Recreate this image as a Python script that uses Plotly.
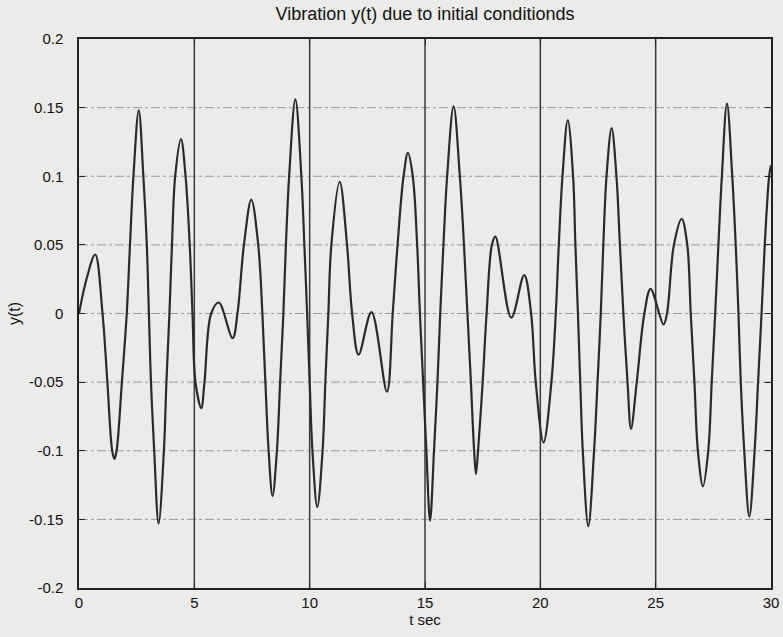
import plotly.graph_objects as go

# time samples (s) and displacement y(t)
t_sec = [0.00, 0.34, 0.70, 1.02, 1.23, 1.44, 1.54, 1.63, 1.86, 2.07, 2.21, 2.36,
         2.59, 2.79, 2.94, 3.03, 3.12, 3.26, 3.45, 3.68, 3.79, 3.92, 4.03, 4.17,
         4.42, 4.62, 4.80, 4.92, 5.05, 5.30, 5.44, 5.73, 6.06, 6.66, 6.87, 7.15,
         7.47, 7.77, 7.95, 8.08, 8.22, 8.39, 8.58, 8.72, 8.86, 8.97, 9.11, 9.38,
         9.64, 9.77, 9.89, 10.00, 10.12, 10.33, 10.56, 10.68, 10.81, 10.94, 11.30,
         11.62, 11.84, 12.12, 12.68, 13.35, 13.60, 13.81, 14.07, 14.26, 14.47,
         14.66, 14.78, 14.92, 15.06, 15.22, 15.39, 15.54, 15.66, 15.80, 15.96,
         16.24, 16.51, 16.69, 16.84, 16.99, 17.13, 17.21, 17.30, 17.50, 17.67,
         17.90, 18.05, 18.74, 19.30, 19.60, 19.80, 20.14, 20.48, 20.67, 20.80,
         20.96, 21.19, 21.42, 21.52, 21.63, 21.73, 21.84, 22.08, 22.33, 22.48,
         22.62, 22.73, 22.87, 23.09, 23.30, 23.45, 23.60, 23.78, 23.93, 24.18,
         24.51, 24.78, 25.34, 25.49, 25.79, 26.13, 26.37, 26.52, 26.68, 26.83,
         27.05, 27.28, 27.43, 27.58, 27.72, 27.87, 28.09, 28.32, 28.47, 28.59,
         28.69, 28.84, 29.06, 29.29, 29.44, 29.59, 29.73, 29.92, 30.00]
y_vals = [0.000, 0.026, 0.043, 0.000, -0.050, -0.100, -0.106, -0.100, -0.050, 0.000, 0.050, 0.100,
          0.148, 0.100, 0.050, 0.000, -0.050, -0.100, -0.153, -0.100, -0.050, 0.000, 0.050, 0.100,
          0.127, 0.100, 0.050, 0.000, -0.050, -0.069, -0.050, 0.000, 0.008, -0.018, 0.000, 0.050,
          0.083, 0.050, 0.000, -0.050, -0.100, -0.133, -0.100, -0.050, 0.000, 0.050, 0.100, 0.156,
          0.100, 0.050, 0.000, -0.050, -0.100, -0.141, -0.100, -0.050, 0.000, 0.050, 0.096,
          0.050, 0.000, -0.030, 0.001, -0.057, 0.000, 0.050, 0.100, 0.117, 0.100,
          0.050, 0.000, -0.050, -0.100, -0.151, -0.100, -0.050, 0.000, 0.050, 0.100,
          0.151, 0.100, 0.050, 0.000, -0.050, -0.100, -0.117, -0.100, -0.050, 0.000,
          0.050, 0.056, -0.003, 0.028, 0.000, -0.050, -0.094, -0.050, 0.000, 0.050,
          0.100, 0.141, 0.100, 0.050, 0.000, -0.050, -0.100, -0.155, -0.100, -0.050,
          0.000, 0.050, 0.100, 0.135, 0.100, 0.050, 0.000, -0.050, -0.084, -0.050,
          0.000, 0.018, -0.008, 0.000, 0.050, 0.069, 0.050, 0.000, -0.050, -0.100,
          -0.126, -0.100, -0.050, 0.000, 0.050, 0.100, 0.153, 0.100, 0.050, 0.000,
          -0.050, -0.100, -0.148, -0.100, -0.050, 0.000, 0.050, 0.100, 0.108]

x_ticks = [0, 5, 10, 15, 20, 25, 30]
y_ticks = [-0.2, -0.15, -0.1, -0.05, 0, 0.05, 0.1, 0.15, 0.2]
y_tick_text = ["-0.2", "-0.15", "-0.1", "-0.05", "0", "0.05", "0.1", "0.15", "0.2"]

title_text = "Vibration y(t) due to initial conditionds"
x_title = "t sec"
y_title = "y(t)"

BG = "#ebebe9"
INK = "#2a2a2a"
FONT = "Liberation Sans, Arial, sans-serif"

fig = go.Figure()

# horizontal dash-dot grid lines
for yv in y_ticks[1:-1]:
    fig.add_shape(type="line", xref="x", yref="y", x0=x_ticks[0], x1=x_ticks[-1], y0=yv, y1=yv,
                  line=dict(color="#9a9a9a", width=1, dash="dashdot"), layer="below")
# vertical grid lines (appear solid in the scan)
for xv in x_ticks[1:-1]:
    fig.add_shape(type="line", xref="x", yref="y", x0=xv, x1=xv, y0=y_ticks[0], y1=y_ticks[-1],
                  line=dict(color="#3a3a3a", width=1.5), layer="below")

fig.add_trace(go.Scatter(x=t_sec, y=y_vals, mode="lines",
                         line=dict(color=INK, width=2.2, shape="spline", smoothing=1.0),
                         hoverinfo="skip", showlegend=False))

axis_common = dict(showgrid=False, zeroline=False, showline=True, linecolor="#222222",
                   linewidth=1.5, mirror="ticks", ticks="inside", ticklen=6, automargin=False,
                   tickcolor="#222222", tickfont=dict(family=FONT, size=15, color="#111111"))

fig.update_xaxes(range=[0, 30], tickvals=x_ticks, ticktext=[str(v) for v in x_ticks],
                 title=dict(text=x_title, font=dict(family=FONT, size=15, color="#111111"), standoff=0),
                 **axis_common)
fig.update_yaxes(range=[-0.2, 0.2], tickvals=y_ticks, ticktext=y_tick_text, ticklabelstandoff=11,
                 title=dict(text=y_title, font=dict(family=FONT, size=16, color="#111111"), standoff=4),
                 **axis_common)

fig.update_layout(
    width=783, height=637,
    paper_bgcolor=BG, plot_bgcolor=BG,
    margin=dict(l=79, r=12, t=39, b=49),
    title=dict(text=title_text, x=(79 + 771) / 2 / 783, xanchor="center", xref="container",
               y=1 - 14 / 637, yanchor="middle",
               font=dict(family=FONT, size=18, color="#111111")),
)

fig.write_html("out.html", config={"displayModeBar": False},
               post_script="document.body.style.margin='0';document.body.style.background='#ebebe9';")
